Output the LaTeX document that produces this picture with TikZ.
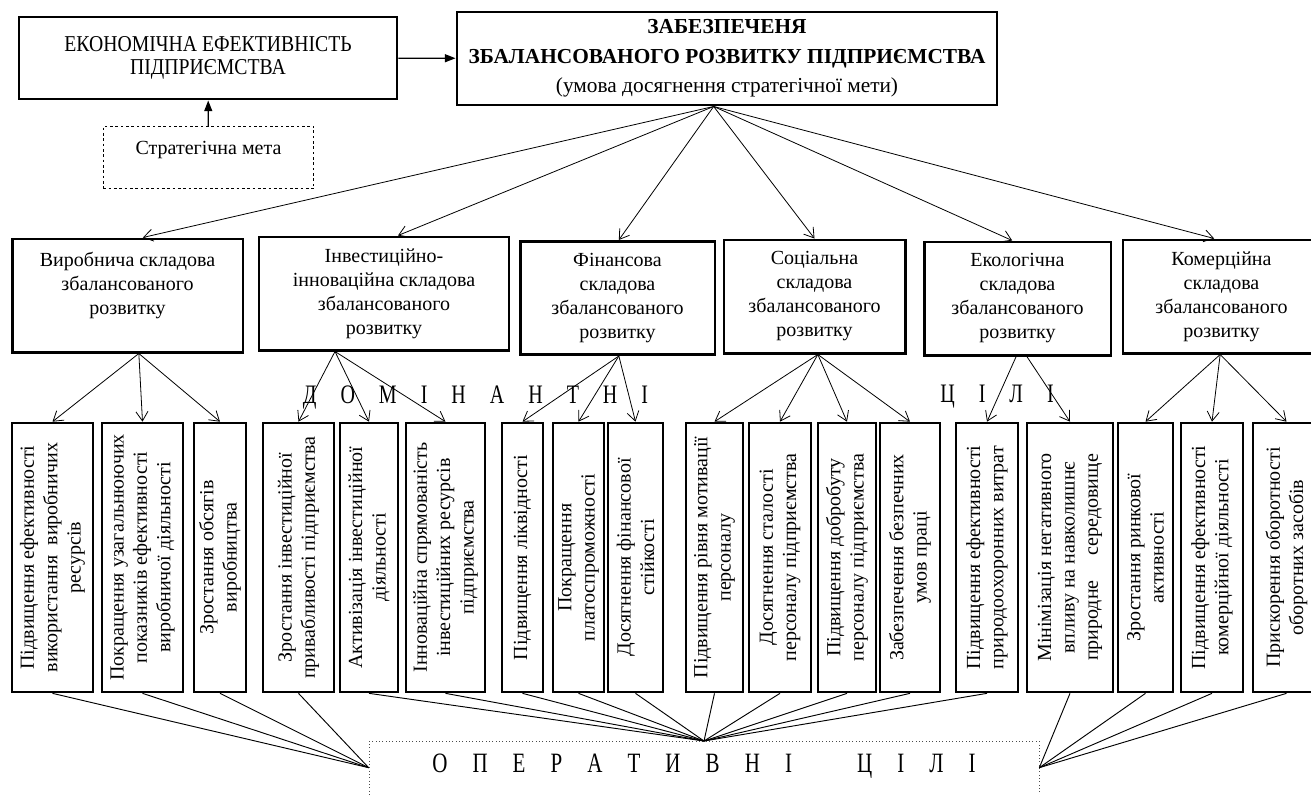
\documentclass[tikz,border=0pt]{standalone}
\usepackage{fontspec}
\setmainfont{Liberation Serif}
\newfontfamily\condfont[FakeStretch=0.75]{Liberation Serif}
\newfontfamily\narrowfont[FakeStretch=0.87]{Liberation Serif}
\usetikzlibrary{arrows.meta}
\begin{document}
\begin{tikzpicture}[x=0.75pt,y=-0.75pt,
                        level0/.style={shape=rectangle,draw,line width=2.2pt,align=center,inner sep=2pt},
                        level1/.style={level0,line width=2pt,font=\fontsize{15}{18}\selectfont,minimum height=85pt},
                        level2/.style={level0,line width=2pt,rotate=90,font=\fontsize{15}{17.5}\selectfont,minimum width=201.75pt,inner sep=1pt},
                        fan/.style={-{Straight Barb[length=7pt,width=9pt]},line width=0.6pt},
                        link/.style={line width=0.7pt},
                        spaced/.style={font=\condfont\fontsize{20}{24}\selectfont}
                        ]
                        \useasboundingbox (0,0) rectangle (1311,794);
                        %Мета
                        \node [level0,minimum width=283.5pt,minimum height=61.5pt,font=\narrowfont\fontsize{17}{17}\selectfont] (econ) at (208,58) {ЕКОНОМІЧНА ЕФЕКТИВНІСТЬ\\ПІДПРИЄМСТВА};
                        \node [level0,minimum width=405pt,minimum height=69.75pt,font=\fontsize{16}{22}\selectfont] (goal) at (727,58.5) {\textbf{ЗАБЕЗПЕЧЕНЯ}\\\textbf{ЗБАЛАНСОВАНОГО РОЗВИТКУ ПІДПРИЄМСТВА}\\(умова досягнення стратегічної мети)};
                        \node [draw,dash pattern=on 2pt off 2pt,line width=0.6pt,minimum width=158pt,minimum height=47pt,text depth=14pt,font=\fontsize{15}{18}\selectfont] (strat) at (208.5,157.5) {Стратегічна мета};
                        \draw [-{Triangle[length=8pt,width=6pt]},line width=0.9pt] (econ) -- (goal);
                        \draw [-{Triangle[length=8pt,width=6pt]},line width=0.9pt] (strat) -- (econ);
                        %Складові збалансованого розвитку
                        \node [level1,minimum width=173pt] (prod) at (127.5,295.5) {Виробнича складова\\збалансованого\\розвитку\rule[-18pt]{0pt}{1pt}};
                        \node [level1,minimum width=187.5pt] (inv) at (384,293.5) {Інвестиційно-\\інноваційна складова\\збалансованого\\розвитку};
                        \node [level1,minimum width=146pt] (fin) at (617.5,298) {Фінансова\\складова\\збалансованого\\розвитку};
                        \node [level1,minimum width=136pt] (soc) at (814.5,296.5) {Соціальна\\складова\\збалансованого\\розвитку};
                        \node [level1,minimum width=140pt] (eco) at (1017.5,298.5) {Екологічна\\складова\\збалансованого\\розвитку};
                        \node [level1,minimum width=148pt] (com) at (1221.5,296.5) {Комерційна\\складова\\збалансованого\\розвитку};
                        \foreach \t/\s in {prod/11.5pt,inv/10.5pt,fin/1pt,soc/0pt,eco/-4pt,com/-5.5pt}
                            \draw [fan] ([xshift=-10pt]goal.south) -- ([xshift=\s]\t.north);
                        %Домінантні цілі
                        \node [spaced] (dom) at (475.5,397) {\spaceskip=18pt Д О М І Н А Н Т Н І};
                        \node [spaced] (domc) at (997,397) {\spaceskip=18pt Ц І Л І};
                        %Оперативні цілі
                        \node [level2,minimum height=60.75pt] (p1) at (52.5,557.5) {Підвищення ефективності\\використання~ виробничих\\ресурсів};
                        \node [level2,minimum height=60.75pt] (p2) at (142.5,557.5) {Покращення узагальнюючих\\показників ефективності\\виробничої діяльності};
                        \node [level2,minimum height=39pt] (p3) at (220,557.5) {Зростання обсягів\\виробництва};
                        \node [level2,minimum height=53.25pt] (i1) at (298.5,557.5) {Зростання інвестиційної\\привабливості підприємства};
                        \node [level2,minimum height=43.5pt] (i2) at (369,557.5) {Активізація інвестиційної\\діяльності};
                        \node [level2,minimum height=59.25pt] (i3) at (445.5,557.5) {Інноваційна спрямованість\\інвестиційних ресурсів\\підприємства};
                        \node [level2,minimum height=30.75pt] (f1) at (522.5,557.5) {Підвищення ліквідності};
                        \node [level2,minimum height=38.25pt] (f2) at (578.5,557.5) {Покращення\\платоспроможності};
                        \node [level2,minimum height=41.25pt] (f3) at (635.5,557.5) {Досягнення фінансової\\стійкості};
                        \node [level2,minimum height=42.75pt] (s1) at (714.5,557.5) {Підвищення рівня мотивації\\персоналу};
                        \node [level2,minimum height=46.5pt] (s2) at (780,557.5) {Досягнення сталості\\персоналу підприємства};
                        \node [level2,minimum height=43.5pt] (s3) at (847,557.5) {Підвищення добробуту\\персоналу підприємства};
                        \node [level2,minimum height=45pt] (s4) at (910,557.5) {Забезпечення безпечних\\умов праці};
                        \node [level2,minimum height=46.5pt] (e1) at (987,557.5) {Підвищення ефективності\\природоохоронних витрат};
                        \node [level2,minimum height=64.5pt] (e2) at (1070,557.5) {Мінімізація негативного\\впливу на навколишнє\\природне \quad середовище};
                        \node [level2,minimum height=41.25pt] (c1) at (1145.5,557.5) {Зростання ринкової\\активності};
                        \node [level2,minimum height=46.5pt] (c2) at (1212,557.5) {Підвищення ефективності\\комерційної діяльності};
                        \node [level2,minimum height=50.25pt] (c3) at (1286.5,557.5) {Прискорення оборотності\\оборотних засобів};
                        \foreach \v in {p1,p2,p3} \draw [fan] ([xshift=8.5pt]prod.south) -- (\v.east);
                        \foreach \v in {i1,i2,i3} \draw [fan] ([xshift=-36.75pt]inv.south) -- (\v.east);
                        \foreach \v in {f1,f2,f3} \draw [fan] ([xshift=1pt]fin.south) -- (\v.east);
                        \foreach \v in {s1,s2,s3,s4} \draw [fan] ([xshift=2.5pt]soc.south) -- (\v.east);
                        \draw [fan] ([xshift=-1pt]eco.south) -- (e1.east);
                        \draw [fan] ([xshift=7pt]eco.south) -- (e2.east);
                        \foreach \v in {c1,c2,c3} \draw [fan] ([xshift=-1pt]com.south) -- (\v.east);
                        %Блок оперативних цілей
                        \node [draw=black!70,dotted,line width=0.5pt,anchor=north,minimum width=502.5pt,inner ysep=9.5pt,text height=14pt,text depth=60pt,font=\condfont\fontsize{21}{24}\selectfont] (oper) at (704,741) {\spaceskip=18.8pt О П Е Р А Т И В Н І\hspace{30pt} Ц І Л І};
                        \coordinate (opl) at ([yshift=-20pt]oper.north west);
                        \coordinate (opr) at ([yshift=-20pt]oper.north east);
                        \foreach \v in {p1,p2,p3,i1} \draw [link] (\v.west) -- (opl);
                        \foreach \v in {i2,i3,f1,f2,f3,s1,s2,s3,s4,e1} \draw [link] (\v.west) -- (oper.north);
                        \foreach \v in {e2,c1,c2,c3} \draw [link] (\v.west) -- (opr);
                \end{tikzpicture}
\end{document}
